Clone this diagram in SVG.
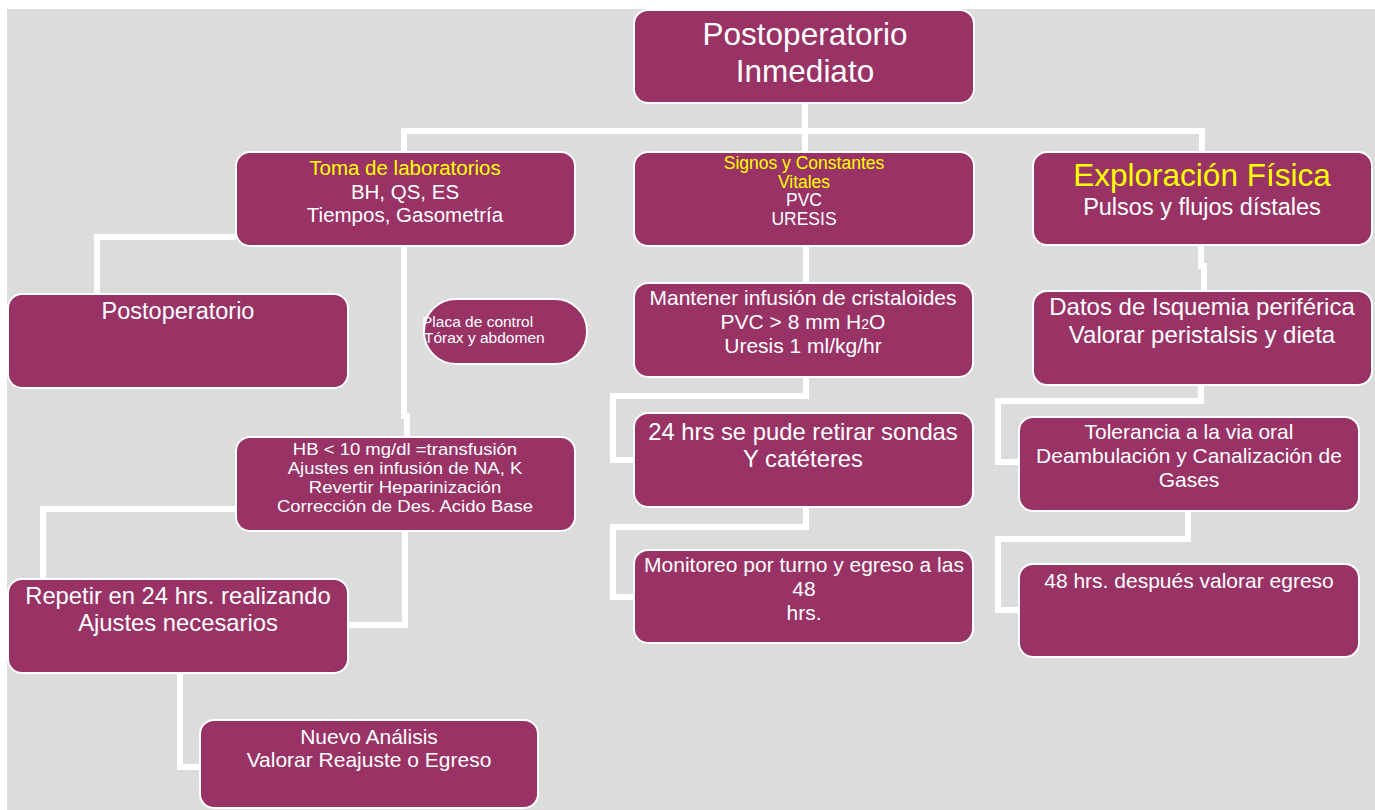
<svg xmlns="http://www.w3.org/2000/svg" width="1375" height="810" viewBox="0 0 1375 810">
<style>
.bg{fill:#dcdcdc}
.box{fill:#993366;stroke:#ffffff;stroke-width:2}
.t{font-family:"Liberation Sans",Arial,sans-serif;fill:#ffffff;text-anchor:middle}
.y{fill:#ffff00}
.s{text-anchor:start}
.c{fill:none;stroke:#ffffff;stroke-width:6;stroke-linejoin:miter}
</style>
<rect class="bg" x="7" y="9" width="1368" height="801"/>
<g id="connectors">
<path class="c" d="M805,103 V131"/>
<path class="c" d="M404,153 V131 H1202 V153"/>
<path class="c" d="M805,131 V153"/>
<path class="c" d="M236,237 H97 V294"/>
<path class="c" d="M404,246 V416 H407 V437"/>
<path class="c" d="M236,509 H43 V584 H63"/>
<path class="c" d="M405,531 V625 H348"/>
<path class="c" d="M180,673 V767 H200"/>
<path class="c" d="M806,246 V283"/>
<path class="c" d="M806,377 V396 H613 V460 H634"/>
<path class="c" d="M806,507 V527 H613 V597 H634"/>
<path class="c" d="M1201,245 V266 H1204 V291"/>
<path class="c" d="M1201,385 V401 H998 V462 H1019"/>
<path class="c" d="M1188,511 V539 H998 V610 H1019"/>
</g>
<g id="root">
<rect class="box" x="634" y="10" width="340" height="93" rx="14"/>
<text class="t" x="805" y="45" font-size="31.5">Postoperatorio</text>
<text class="t" x="805" y="82" font-size="31.5">Inmediato</text>
</g>
<g id="toma">
<rect class="box" x="236" y="152" width="339" height="94" rx="14"/>
<text class="t y" x="405" y="175" font-size="20.5">Toma de laboratorios</text>
<text class="t" x="405" y="199" font-size="20.5">BH, QS, ES</text>
<text class="t" x="405" y="222" font-size="20.5">Tiempos, Gasometría</text>
</g>
<g id="signos">
<rect class="box" x="634" y="152" width="340" height="94" rx="14"/>
<text class="t y" x="804" y="169" font-size="17.5">Signos y Constantes</text>
<text class="t y" x="804" y="188" font-size="17.5">Vitales</text>
<text class="t" x="804" y="206" font-size="17.5">PVC</text>
<text class="t" x="804" y="225" font-size="17.5">URESIS</text>
</g>
<g id="exploracion">
<rect class="box" x="1033" y="152" width="339" height="93" rx="14"/>
<text class="t y" x="1202" y="186" font-size="31.5">Exploración Física</text>
<text class="t" x="1202" y="215" font-size="23.5">Pulsos y flujos dístales</text>
</g>
<g id="postoperatorio">
<rect class="box" x="8" y="294" width="340" height="94" rx="14"/>
<text class="t" x="178" y="319" font-size="23.5">Postoperatorio</text>
</g>
<g id="placa">
<rect class="box" x="424" y="299" width="163" height="65" rx="32"/>
<text class="t s" x="422" y="327" font-size="15.5">Placa de control</text>
<text class="t s" x="424" y="343" font-size="15.5">Tórax y abdomen</text>
</g>
<g id="mantener">
<rect class="box" x="634" y="283" width="339" height="94" rx="14"/>
<text class="t" x="803" y="305" font-size="21">Mantener infusión de cristaloides</text>
<text class="t" x="803" y="329" font-size="21">PVC &gt; 8 mm H<tspan font-size="14">2</tspan>O</text>
<text class="t" x="803" y="353" font-size="21">Uresis 1 ml/kg/hr</text>
</g>
<g id="datos">
<rect class="box" x="1033" y="291" width="339" height="94" rx="14"/>
<text class="t" x="1202" y="315" font-size="24">Datos de Isquemia periférica</text>
<text class="t" x="1202" y="343" font-size="24">Valorar peristalsis y dieta</text>
</g>
<g id="hb">
<rect class="box" x="236" y="437" width="339" height="94" rx="14"/>
<g transform="translate(405,0) scale(1.09,1) translate(-405,0)">
<text class="t" x="405" y="455" font-size="17">HB &lt; 10 mg/dl =transfusión</text>
<text class="t" x="405" y="474" font-size="17">Ajustes en infusión de NA, K</text>
<text class="t" x="405" y="493" font-size="17">Revertir Heparinización</text>
<text class="t" x="405" y="512" font-size="17">Corrección de Des. Acido Base</text>
</g>
</g>
<g id="retirar">
<rect class="box" x="634" y="413" width="339" height="94" rx="14"/>
<text class="t" x="803" y="440" font-size="23.8">24 hrs se pude retirar sondas</text>
<text class="t" x="803" y="467" font-size="23.8">Y catéteres</text>
</g>
<g id="tolerancia">
<rect class="box" x="1019" y="417" width="340" height="94" rx="14"/>
<text class="t" x="1189" y="439" font-size="21">Tolerancia a la via oral</text>
<text class="t" x="1189" y="463" font-size="21">Deambulación y Canalización de</text>
<text class="t" x="1189" y="487" font-size="21">Gases</text>
</g>
<g id="repetir">
<rect class="box" x="8" y="579" width="340" height="94" rx="14"/>
<text class="t" x="178" y="604" font-size="23.8">Repetir en 24 hrs. realizando</text>
<text class="t" x="178" y="631" font-size="23.8">Ajustes necesarios</text>
</g>
<g id="monitoreo">
<rect class="box" x="634" y="550" width="339" height="93" rx="14"/>
<text class="t" x="804" y="572" font-size="21">Monitoreo por turno y egreso a las</text>
<text class="t" x="804" y="596" font-size="21">48</text>
<text class="t" x="804" y="620" font-size="21">hrs.</text>
</g>
<g id="egreso48">
<rect class="box" x="1019" y="564" width="340" height="93" rx="14"/>
<text class="t" x="1189" y="588" font-size="21">48 hrs. después valorar egreso</text>
</g>
<g id="nuevo">
<rect class="box" x="200" y="720" width="338" height="88" rx="14"/>
<text class="t" x="369" y="744" font-size="21">Nuevo Análisis</text>
<text class="t" x="369" y="767" font-size="21">Valorar Reajuste o Egreso</text>
</g>
</svg>
